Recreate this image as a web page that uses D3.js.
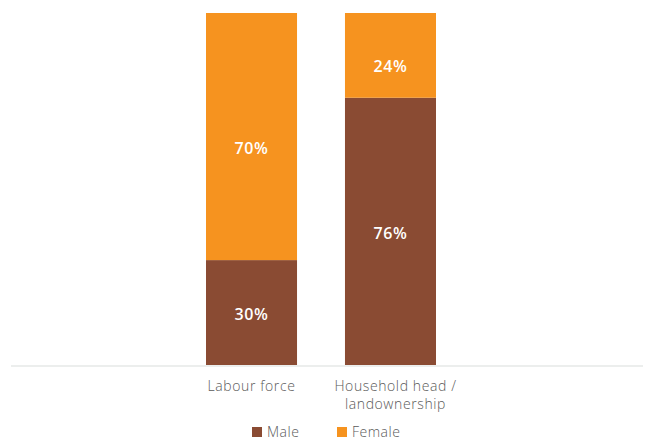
<!DOCTYPE html>
<html>
<head>
<meta charset="utf-8">
<script src="https://cdn.jsdelivr.net/npm/d3@7"></script>
<style>
  html, body { margin: 0; padding: 0; background: #fff; }
  svg { display: block; }
</style>
</head>
<body>
<svg id="chart" width="645" height="441"></svg>
<script>
// Share of men and women by role (percent)
const categories = ["Labour force", "Household head / landownership"];
const categoryLines = [["Labour force"], ["Household head /", "landownership"]];
const seriesNames = ["Male", "Female"];
const maleValues = [30, 76];
const femaleValues = [70, 24];
const colors = { Male: "#8A4B33", Female: "#F6931F" };

const svg = d3.select("#chart");
const font = "'Open Sans', Lato, sans-serif";

const plotTop = 13, plotBottom = 366;

const x = d3.scaleBand()
  .domain(categories)
  .range([206, 436])
  .paddingInner(0.345)
  .paddingOuter(0);

const y = d3.scaleLinear().domain([0, 100]).range([plotBottom, plotTop]);

const rows = categories.map((c, i) => ({ category: c, Male: maleValues[i], Female: femaleValues[i] }));
const stacked = d3.stack().keys(seriesNames)(rows);

// stacked bars
const layers = svg.append("g").selectAll("g")
  .data(stacked)
  .join("g")
  .attr("fill", d => colors[d.key]);

layers.selectAll("rect")
  .data(d => d)
  .join("rect")
  .attr("x", d => x(d.data.category))
  .attr("y", d => y(d[1]))
  .attr("width", x.bandwidth())
  .attr("height", d => y(d[0]) - y(d[1]));

// value labels inside each segment
const labelShift = { Male: 1, Female: 11 };
stacked.forEach(layer => {
  svg.append("g").selectAll("text")
    .data(layer)
    .join("text")
    .attr("x", d => x(d.data.category) + x.bandwidth() / 2)
    .attr("y", d => (y(d[0]) + y(d[1])) / 2 + labelShift[layer.key])
    .attr("text-anchor", "middle")
    .attr("dominant-baseline", "central")
    .attr("fill", "#fff")
    .attr("font-family", font)
    .attr("font-weight", 600)
    .attr("font-size", 16)
    .attr("letter-spacing", "0.6px")
    .text(d => (d[1] - d[0]) + "%");
});

// baseline
svg.append("line")
  .attr("x1", 11).attr("x2", 643)
  .attr("y1", plotBottom).attr("y2", plotBottom)
  .attr("stroke", "#eceeed")
  .attr("stroke-width", 2);

// category labels, one text element per line
const xAxis = svg.append("g");
categories.forEach((c, i) => {
  const cx = x(c) + x.bandwidth() / 2 + (i === 1 ? 5 : 0);
  categoryLines[i].forEach((line, j) => {
    xAxis.append("text")
      .attr("x", cx)
      .attr("y", 391 + j * 18)
      .attr("text-anchor", "middle")
      .attr("fill", "#5a5a5a")
      .attr("font-family", font)
      .attr("font-weight", 300)
      .attr("font-size", 14)
      .attr("letter-spacing", "0.6px")
      .text(line);
  });
});

// legend
const legendX = [252, 337];
const legend = svg.append("g");
seriesNames.forEach((s, i) => {
  legend.append("rect")
    .attr("x", legendX[i]).attr("y", 427)
    .attr("width", 10).attr("height", 10)
    .attr("fill", colors[s]);
  legend.append("text")
    .attr("x", legendX[i] + 15).attr("y", 436.5)
    .attr("fill", "#5a5a5a")
    .attr("font-family", font)
    .attr("font-weight", 300)
    .attr("font-size", 14)
    .attr("letter-spacing", "0.5px")
    .text(s);
});
</script>
</body>
</html>
